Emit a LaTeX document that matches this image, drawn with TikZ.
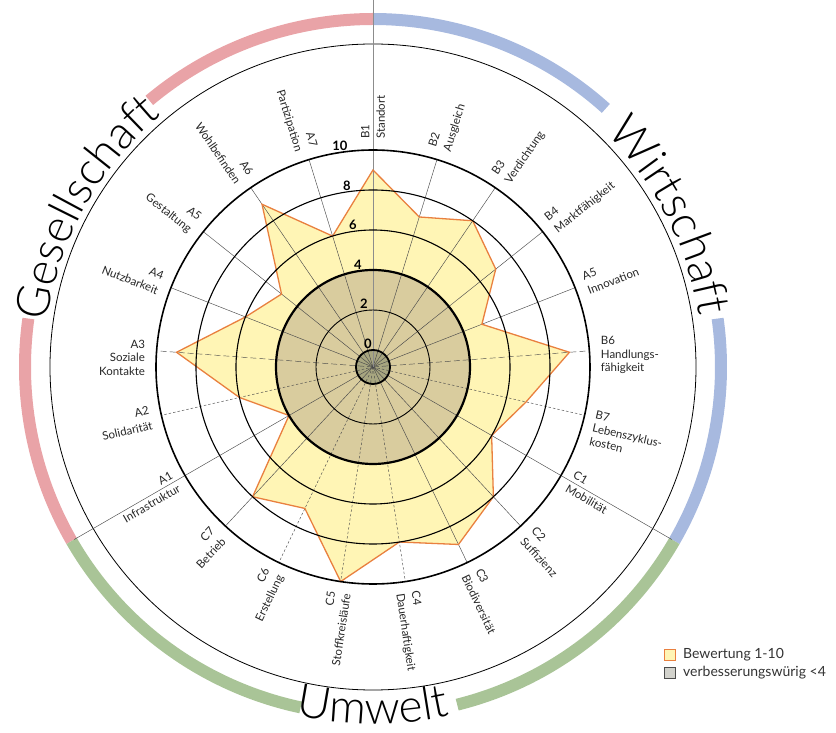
\documentclass[tikz,border=0pt]{standalone}
\usepackage{fontspec}
\setmainfont{Lato}
\newfontfamily\catfont{Lato Light}
\usetikzlibrary{decorations.text}
\definecolor{polyfill}{HTML}{FFF5B5}
\definecolor{polyline}{HTML}{E9803F}
\definecolor{lowfill}{HTML}{D9CC9E}
\definecolor{corefill}{HTML}{A8A680}
\definecolor{gesell}{HTML}{E9A3A7}
\definecolor{wirt}{HTML}{A7B9DF}
\definecolor{umw}{HTML}{A9C497}
\definecolor{axisgray}{HTML}{4A4A4A}
\definecolor{legendgray}{HTML}{D2D2CC}
\tikzset{
  band/.style={line width=12pt},
  axisline/.style={draw=axisgray, line width=0.45pt},
  longdash/.style={dash pattern=on 6pt off 3pt},
  shortdash/.style={dash pattern=on 2.5pt off 2pt},
  lbl/.style={inner sep=0pt, font=\fontsize{11.5}{15.5}\selectfont, text=black!85},
  lblthree/.style={inner sep=0pt, font=\fontsize{11.5}{13.5}\selectfont, text=black!85},
  ringnum/.style={inner sep=0pt, anchor=south, font=\fontsize{13}{13}\selectfont\bfseries},
  legtext/.style={anchor=west, inner sep=0pt, font=\fontsize{14}{14}\selectfont, text=black!80},
  legbox/.style={minimum size=11pt, inner sep=0pt, line width=0.8pt},
}
\begin{document}
\begin{tikzpicture}[x=1pt,y=1pt]
\useasboundingbox (-373,-366) rectangle (463,367);
% category bands
\draw[band, gesell] (90:348) arc[start angle=90, end angle=130, radius=348];
\draw[band, gesell] (172:348) arc[start angle=172, end angle=210, radius=348];
\draw[band, wirt] (90:348) arc[start angle=90, end angle=48, radius=348];
\draw[band, wirt] (8:348) arc[start angle=8, end angle=-30, radius=348];
\draw[band, umw] (210:348) arc[start angle=210, end angle=258, radius=348];
\draw[band, umw] (284:348) arc[start angle=284, end angle=330, radius=348];
% outer thin circle
\draw[line width=0.8pt] (0,0) circle[radius=323];
% rating polygon fill
\path[fill=polyfill] (90:197) \foreach \v [count=\k] in {7,8,7,5,9,7,6,8,9,8,10,7,8,4,6,9,6,5,9,6} { -- ({90-\k*360/21}:{17+20*\v}) } -- cycle;
% low zone
\fill[lowfill] (0,0) circle[radius=97];
\fill[corefill] (0,0) circle[radius=17];
% axes
\foreach \k/\sty in {1/solid,2/solid,3/solid,4/solid,5/longdash,6/shortdash,8/solid,9/solid,10/shortdash,11/shortdash,12/shortdash,13/solid,15/shortdash,16/longdash,17/solid,18/solid,19/solid,20/solid}
  \draw[axisline,\sty] (0,0) -- ({90-\k*360/21}:217);
\draw[axisline, draw=black!45] (0,0) -- (90:367);
\draw[axisline] (0,0) -- (-30:345);
\draw[axisline] (0,0) -- (210:345);
% polygon outline
\draw[polyline, line width=1.3pt, line join=miter] (90:197) \foreach \v [count=\k] in {7,8,7,5,9,7,6,8,9,8,10,7,8,4,6,9,6,5,9,6} { -- ({90-\k*360/21}:{17+20*\v}) } -- cycle;
% rings
\draw[line width=0.9pt] (0,0) circle[radius=57];
\draw[line width=2.2pt] (0,0) circle[radius=97];
\draw[line width=1.1pt] (0,0) circle[radius=137];
\draw[line width=1.1pt] (0,0) circle[radius=177];
\draw[line width=1.6pt] (0,0) circle[radius=217];
\draw[line width=1.8pt] (0,0) circle[radius=17];
% ring numbers
\node[ringnum] (n10) at (-33,216) {10};
\node[ringnum] (n8) at (-26,176.5) {8};
\node[ringnum] (n6) at (-20,137) {6};
\node[ringnum] (n4) at (-15,97.5) {4};
\node[ringnum] (n2) at (-9,58) {2};
\node[ringnum] (n0) at (-5,18) {0};
% axis labels, right side
\foreach \k/\a/\b in {0/B1/Standort,1/B2/Ausgleich,2/B3/Verdichtung,3/B4/Marktfähigkeit,4/A5/Innovation,7/C1/Mobilität,8/C2/Suffizienz,9/C3/Biodiversität,10/C4/Dauerhaftigkeit}
  \node[lbl, anchor=west, align=left, rotate={90-\k*360/21}] (lab\k) at ({90-\k*360/21}:228) {\a\\\b};
% axis labels, left side
\foreach \k/\a/\b in {11/C5/Stoffkreisläufe,12/C6/Erstellung,13/C7/Betrieb,14/A1/Infrastruktur,15/A2/Solidarität,17/A4/Nutzbarkeit,18/A5/Gestaltung,19/A6/Wohlbefinden,20/A7/Partizipation}
  \node[lbl, anchor=east, align=right, rotate={270-\k*360/21}] (lab\k) at ({90-\k*360/21}:228) {\a\\\b};
\node[lblthree, anchor=west, align=left] (lab5) at (3:228) {B6\\Handlungs-\\fähigkeit};
\node[lblthree, anchor=west, align=left, rotate=-12.86] (lab6) at (-15.5:228) {B7\\Lebenszyklus-\\kosten};
\node[lblthree, anchor=east, align=right] (lab16) at (177.7:228) {A3\\Soziale\\Kontakte};
% category titles
\path[decorate, decoration={text along path, text={|\catfont\fontsize{46}{46}\selectfont|Gesellschaft}, text align=center}] (172:329) arc[start angle=172, end angle=130, radius=329];
\path[decorate, decoration={text along path, text={|\catfont\fontsize{46}{46}\selectfont|Wirtschaft}, text align=center}] (47:330) arc[start angle=47, end angle=7, radius=330];
\path[decorate, decoration={text along path, text={|\catfont\fontsize{46}{46}\selectfont|Umwelt}, text align=center}] (250:357) arc[start angle=250, end angle=290, radius=357];
% legend
\node[legbox, draw=polyline, fill=polyfill] (leg1) at (297,-288) {};
\node[legtext] (legt1) at (310,-288) {Bewertung 1-10};
\node[legbox, draw=black!70, fill=legendgray] (leg2) at (297,-306) {};
\node[legtext] (legt2) at (310,-306) {verbesserungswürig <4};
\end{tikzpicture}
\end{document}
